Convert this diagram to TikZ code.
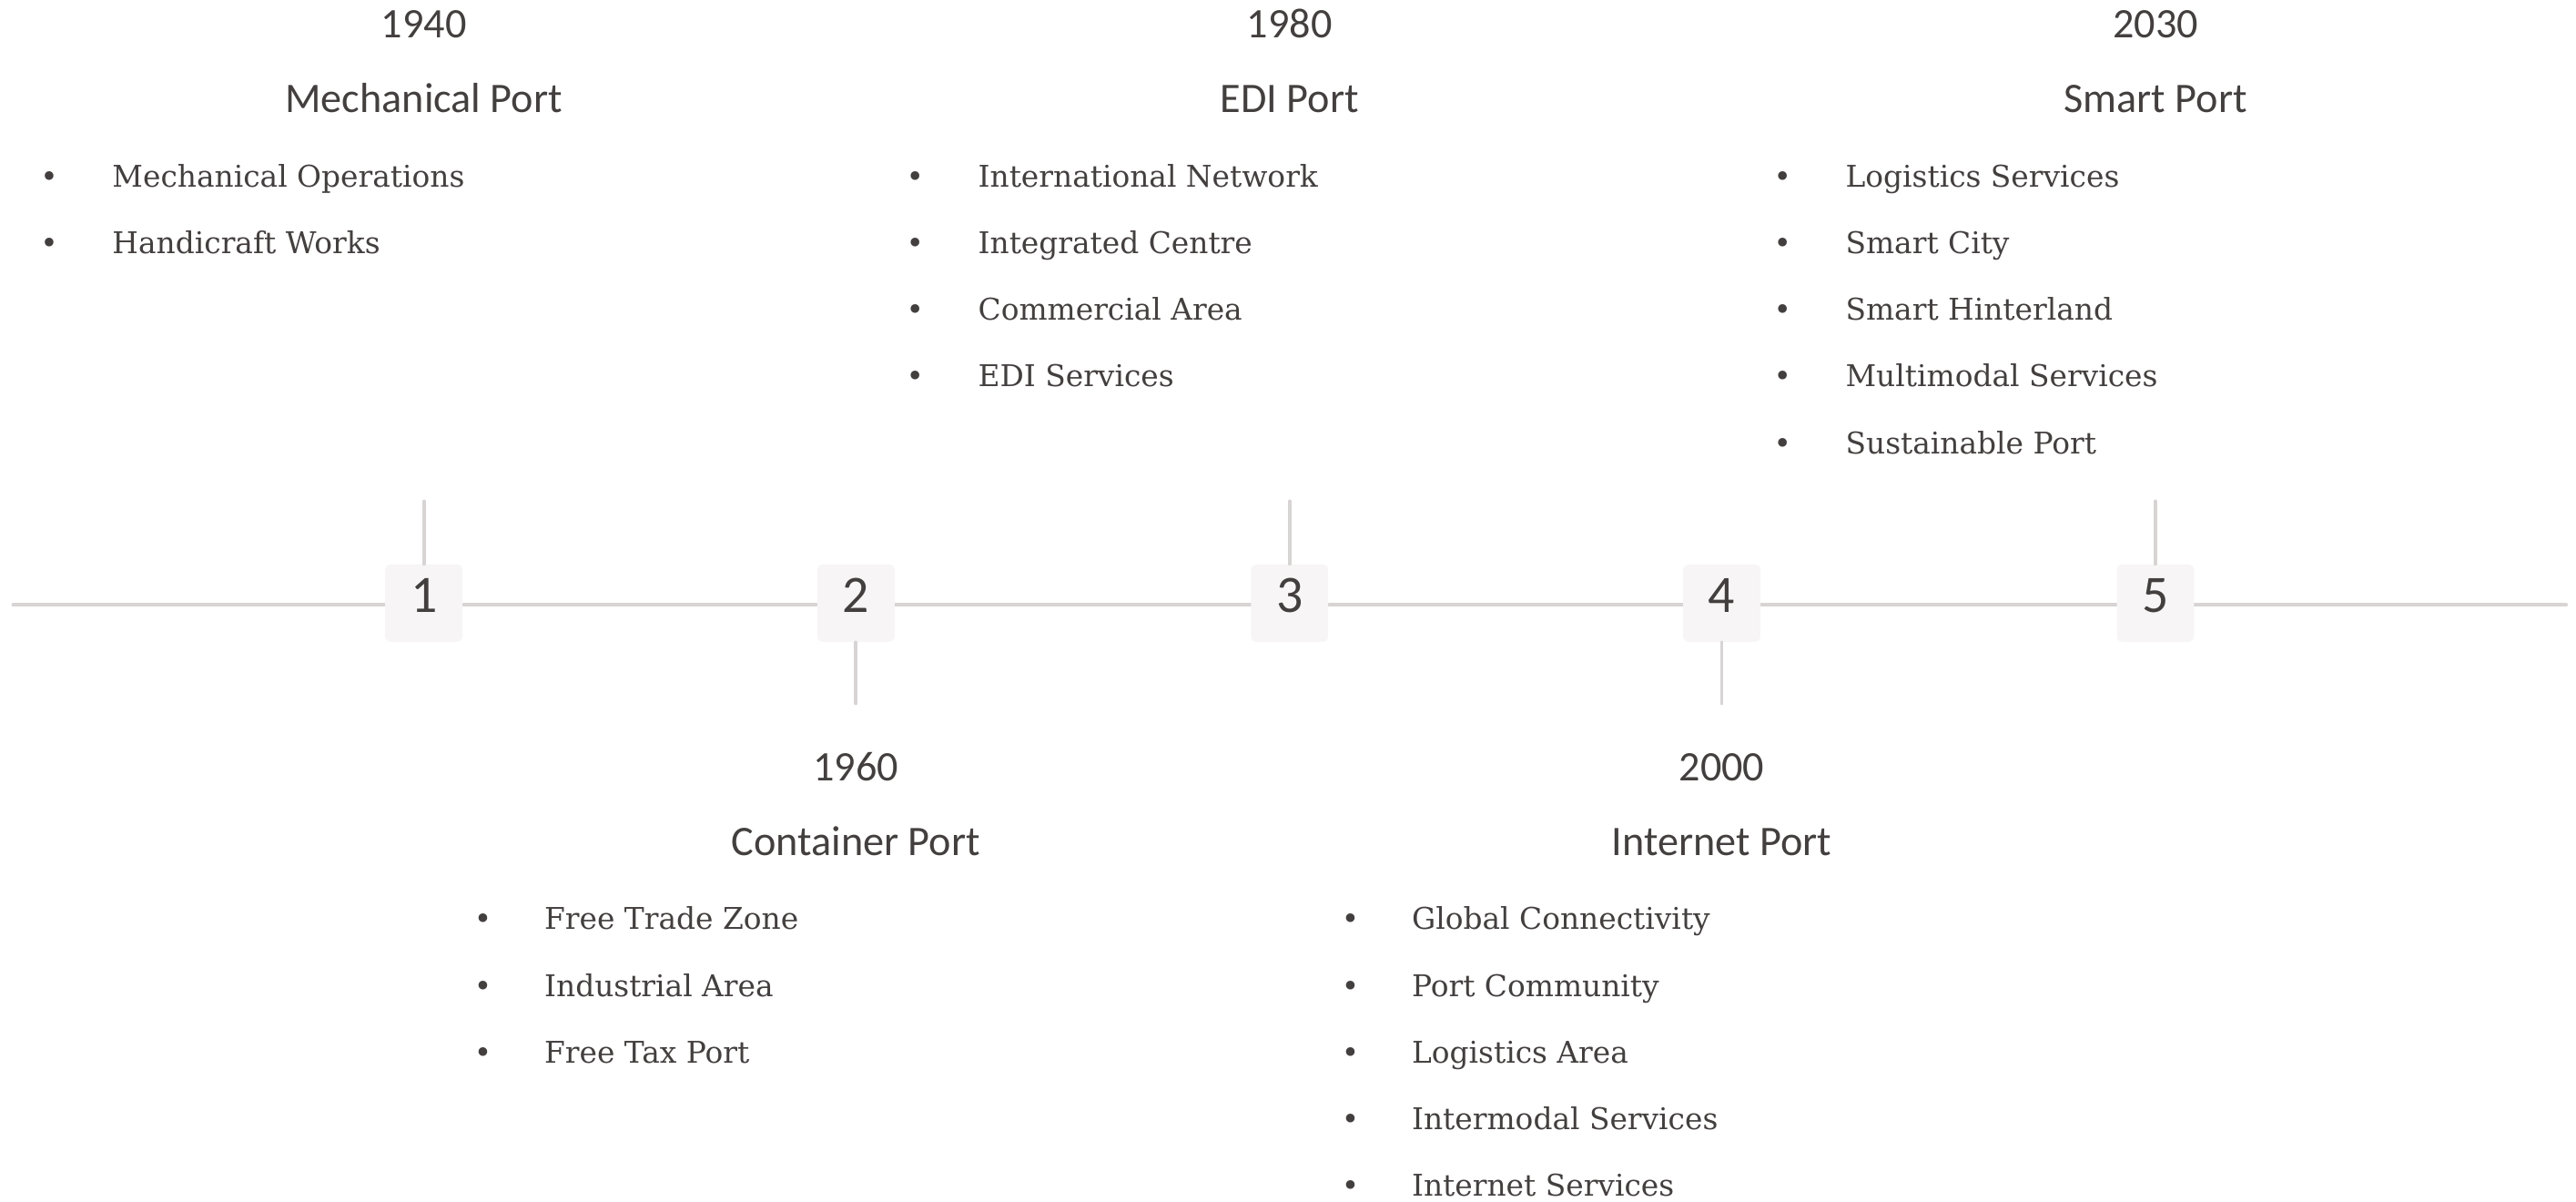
\documentclass[tikz,border=0pt]{standalone}
\usepackage{fontspec}
\setmainfont{DejaVu Serif}
\newfontfamily\headfont{Carlito}
\definecolor{txtgray}{RGB}{68,63,63}
\definecolor{linegray}{RGB}{216,212,212}
\definecolor{boxfill}{RGB}{247,245,245}

\begin{document}
\begin{tikzpicture}[x=0.5pt,y=0.5pt,yscale=-1,xscale=1,
    headtxt/.style={anchor=base,inner sep=0pt,text=txtgray,font=\headfont\fontsize{12.8}{14}\selectfont},
    itemtxt/.style={anchor=base west,inner sep=0pt,text=txtgray,font=\fontsize{9.1}{11}\selectfont},
    dotmark/.style={anchor=base,inner sep=0pt,text=txtgray,font=\fontsize{9.1}{11}\selectfont},
    stagebox/.style={rectangle,rounded corners=1.5pt,fill=boxfill,minimum size=23.5pt,inner sep=0pt,
        text=txtgray,text depth=0.48em,font=\headfont\fontsize{16}{18}\selectfont},
    axisline/.style={draw=linegray,line width=1.1pt,line cap=round}]
\useasboundingbox (0,0) rectangle (1568,731);

%Straight Lines (timeline)
\coordinate (lstart) at (8,368);
\coordinate (lend) at (1562,368);
\draw [axisline] (lstart) -- (lend) ;

%Stage boxes
\node (s1) [stagebox] at (258,367) {1};
\node (s2) [stagebox] at (521,367) {2};
\node (s3) [stagebox] at (785,367) {3};
\node (s4) [stagebox] at (1048,367) {4};
\node (s5) [stagebox] at (1312,367) {5};

%Straight Lines (ticks)
\coordinate (t1) at (258,305);
\coordinate (t2) at (521,428);
\coordinate (t3) at (785,305);
\coordinate (t4) at (1048,428);
\coordinate (t5) at (1312,305);
\draw [axisline] (s1.north) -- (t1) ;
\draw [axisline] (s2.south) -- (t2) ;
\draw [axisline] (s3.north) -- (t3) ;
\draw [axisline] (s4.south) -- (t4) ;
\draw [axisline] (s5.north) -- (t5) ;

% Text Node (stage 1)
\node (yr1) [headtxt] at (258,23.1) {1940};
\node (hd1) [headtxt] at (258,68.3) {Mechanical Port};
\node (d11) [dotmark] at (30,113.6) {•};
\node (i11) [itemtxt] at (68,113.6) {Mechanical Operations};
\node (d12) [dotmark] at (30,154.2) {•};
\node (i12) [itemtxt] at (68,154.2) {Handicraft Works};

% Text Node (stage 2)
\node (yr2) [headtxt] at (521,475.1) {1960};
\node (hd2) [headtxt] at (521,520.3) {Container Port};
\node (d21) [dotmark] at (294,565.6) {•};
\node (i21) [itemtxt] at (331,565.6) {Free Trade Zone};
\node (d22) [dotmark] at (294,606.2) {•};
\node (i22) [itemtxt] at (331,606.2) {Industrial Area};
\node (d23) [dotmark] at (294,646.8) {•};
\node (i23) [itemtxt] at (331,646.8) {Free Tax Port};

% Text Node (stage 3)
\node (yr3) [headtxt] at (785,23.1) {1980};
\node (hd3) [headtxt] at (785,68.3) {EDI Port};
\node (d31) [dotmark] at (557,113.6) {•};
\node (i31) [itemtxt] at (595,113.6) {International Network};
\node (d32) [dotmark] at (557,154.2) {•};
\node (i32) [itemtxt] at (595,154.2) {Integrated Centre};
\node (d33) [dotmark] at (557,194.8) {•};
\node (i33) [itemtxt] at (595,194.8) {Commercial Area};
\node (d34) [dotmark] at (557,235.4) {•};
\node (i34) [itemtxt] at (595,235.4) {EDI Services};

% Text Node (stage 4)
\node (yr4) [headtxt] at (1048,475.1) {2000};
\node (hd4) [headtxt] at (1048,520.3) {Internet Port};
\node (d41) [dotmark] at (822,565.6) {•};
\node (i41) [itemtxt] at (859,565.6) {Global Connectivity};
\node (d42) [dotmark] at (822,606.2) {•};
\node (i42) [itemtxt] at (859,606.2) {Port Community};
\node (d43) [dotmark] at (822,646.8) {•};
\node (i43) [itemtxt] at (859,646.8) {Logistics Area};
\node (d44) [dotmark] at (822,687.4) {•};
\node (i44) [itemtxt] at (859,687.4) {Intermodal Services};
\node (d45) [dotmark] at (822,728) {•};
\node (i45) [itemtxt] at (859,728) {Internet Services};

% Text Node (stage 5)
\node (yr5) [headtxt] at (1312,23.1) {2030};
\node (hd5) [headtxt] at (1312,68.3) {Smart Port};
\node (d51) [dotmark] at (1085,113.6) {•};
\node (i51) [itemtxt] at (1123,113.6) {Logistics Services};
\node (d52) [dotmark] at (1085,154.2) {•};
\node (i52) [itemtxt] at (1123,154.2) {Smart City};
\node (d53) [dotmark] at (1085,194.8) {•};
\node (i53) [itemtxt] at (1123,194.8) {Smart Hinterland};
\node (d54) [dotmark] at (1085,235.4) {•};
\node (i54) [itemtxt] at (1123,235.4) {Multimodal Services};
\node (d55) [dotmark] at (1085,276) {•};
\node (i55) [itemtxt] at (1123,276) {Sustainable Port};

\end{tikzpicture}
\end{document}
